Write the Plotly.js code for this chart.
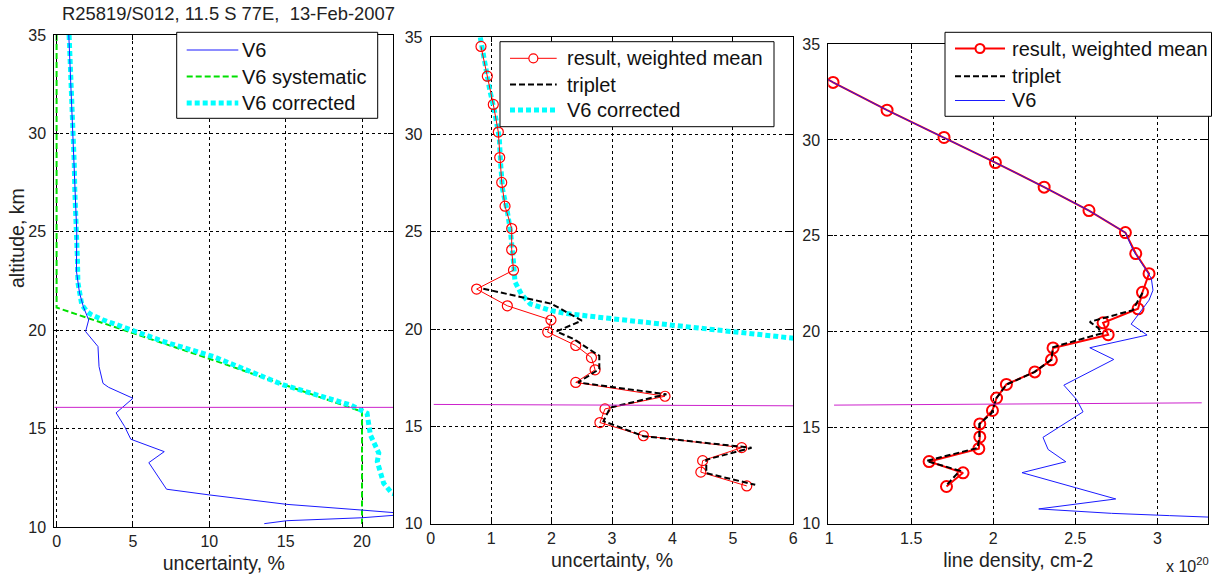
<!DOCTYPE html>
<html>
<head>
<meta charset="utf-8">
<script src="https://cdn.plot.ly/plotly-3.0.1.min.js"></script>
<style>html,body{margin:0;padding:0;background:#fff;}#chart{width:1212px;height:579px;}</style>
</head>
<body>
<div id="chart"></div>
<script>
// ---------- Panel 1: uncertainty, % ----------
var v6Alt = [35, 32, 30, 27, 25, 23, 21.9, 21.2, 20.52, 19.93, 19.17, 18.15, 17.3, 17.1, 16.54, 15.8, 15.1, 14.46, 13.83, 13.27, 11.92, 11.63, 11.15, 10.86, 10.66, 10.47, 10.32, 10.17];
var v6Unc = [0.8, 0.95, 1.07, 1.2, 1.32, 1.3, 1.5, 1.75, 2.1, 1.9, 2.71, 2.78, 3.04, 3.4, 5.0, 3.9, 4.46, 4.86, 7.05, 6.04, 7.2, 10.0, 15.08, 20.0, 23.2, 20.0, 15.08, 13.6];

var sysAlt = [35, 21.15, 19.85, 18.55, 17.2, 15.86, 10.15];
var sysUnc = [0, 0, 5, 10, 15, 20, 20];

var corrAlt = [35, 33.46, 32.25, 31.13, 29.84, 28.46, 27.17, 26.05, 25.02, 23.46, 22.43, 21.8, 21.29, 20.95, 20.8, 20.53, 20.33, 20.1, 19.98, 19.81, 19.65, 19.4, 18.66, 17.22, 16.2, 15.78, 14.68, 13.75, 13.32, 12.22, 11.71, 11.6];
var corrUnc = [0.82, 0.9, 0.98, 1.06, 1.135, 1.158, 1.19, 1.268, 1.32, 1.37, 1.395, 1.5, 1.65, 2.0, 2.25, 3.02, 3.74, 4.46, 5.0, 5.56, 6.1, 7.1, 10.27, 14.86, 19.24, 20.33, 20.55, 21.1, 21.0, 21.42, 21.97, 22.4];

// ---------- Panel 2 / 3: weighted-mean result ----------
var resAlt  = [34.53, 33.0, 31.55, 30.13, 28.82, 27.54, 26.32, 25.17, 24.08, 23.03, 22.06, 21.2, 20.47, 19.85, 19.16, 18.54, 17.91, 17.26, 16.55, 15.9, 15.2, 14.52, 13.91, 13.24, 12.65, 11.94];
var resUnc  = [0.832, 0.937, 1.036, 1.119, 1.142, 1.175, 1.23, 1.34, 1.34, 1.37, 0.76, 1.268, 1.99, 1.936, 2.4, 2.66, 2.72, 2.4, 3.877, 2.884, 2.80, 3.52, 5.146, 4.5, 4.47, 5.23];
var resDens = [0.72, 1.024, 1.353, 1.70, 2.013, 2.31, 2.583, 2.805, 2.868, 2.949, 2.909, 2.882, 2.669, 2.70, 2.364, 2.354, 2.253, 2.08, 2.02, 1.995, 1.918, 1.918, 1.912, 1.609, 1.816, 1.715];

// triplet
var tripAltU = [22.08, 21.3, 20.44, 19.88, 19.5, 18.63, 17.95, 17.26, 16.65, 15.97, 15.27, 14.5, 13.9, 13.29, 12.6, 12.0];
var tripUnc  = [0.87, 2.0, 2.5, 2.08, 2.36, 2.79, 2.79, 2.44, 3.9, 2.97, 2.86, 3.52, 5.31, 4.56, 4.56, 5.37];
var tripAltD = [22.04, 21.13, 20.52, 20.2, 19.92, 19.2, 18.55, 17.9, 17.25, 16.55, 15.75, 15.2, 14.5, 13.95, 13.27, 12.76, 12.0];
var tripDens = [2.909, 2.85, 2.588, 2.64, 2.659, 2.364, 2.354, 2.25, 2.08, 2.02, 1.989, 1.915, 1.915, 1.905, 1.593, 1.796, 1.715];

// V6 line density (x 1e20 cm-2)
var v6dAlt  = [34.53, 33.0, 31.55, 30.13, 28.82, 27.54, 26.32, 25.17, 24.25, 23.2, 22.78, 22.17, 21.65, 20.4, 19.83, 19.17, 18.56, 17.22, 16.48, 15.83, 14.5, 13.87, 13.23, 12.66, 11.29, 10.77, 10.54, 10.42, 10.3];
var v6Dens  = [0.72, 1.024, 1.353, 1.70, 2.013, 2.31, 2.583, 2.805, 2.852, 2.933, 2.963, 2.973, 2.949, 2.84, 2.937, 2.588, 2.734, 2.43, 2.507, 2.547, 2.303, 2.334, 2.442, 2.175, 2.746, 2.277, 2.72, 3.075, 3.45];

// tropopause marker lines
var trop1X = [-0.15, 22.05], trop1Alt = [16.08, 16.08];
var trop2X = [0.05, 6.0],    trop2Alt = [16.13, 16.06];
var trop3X = [1.03, 3.27],   trop3Alt = [16.18, 16.30];

var ticks1 = [0, 5, 10, 15, 20];
var ticks2 = [0, 1, 2, 3, 4, 5, 6];
var ticks3 = [1, 1.5, 2, 2.5, 3];
var altTicks = [10, 15, 20, 25, 30, 35];

// legend labels
var legend1Labels = ['V6', 'V6 systematic', 'V6 corrected'];
var legend2Labels = ['result, weighted mean', 'triplet', 'V6 corrected'];
var legend3Labels = ['result, weighted mean', 'triplet', 'V6'];

var FONT = 'Arial, "Liberation Sans", sans-serif';
var BLUE = '#1a1aff', GREEN = '#00e000', CYAN = '#00ffff', RED = '#ff0000', MAG = '#cc22cc';
var ST = {
  v6:   {color: BLUE, width: 1},
  sys:  {color: GREEN, width: 2, dash: '6px,3px'},
  corr: {color: CYAN, width: 5, dash: '5px,3px'},
  res2: {color: RED, width: 1},
  res3: {color: RED, width: 2},
  trip: {color: '#000', width: 2, dash: '6px,3px'},
  trop: {color: MAG, width: 1}
};

var traces = [
  // panel 1
  {x: sysUnc, y: sysAlt, xaxis: 'x', yaxis: 'y', mode: 'lines', name: legend1Labels[1], line: ST.sys},
  {x: corrUnc, y: corrAlt, xaxis: 'x', yaxis: 'y', mode: 'lines', name: legend1Labels[2], line: ST.corr},
  {x: v6Unc, y: v6Alt, xaxis: 'x', yaxis: 'y', mode: 'lines', name: legend1Labels[0], line: ST.v6},
  {x: trop1X, y: trop1Alt, xaxis: 'x', yaxis: 'y', mode: 'lines', name: 'tropopause', line: ST.trop},
  // panel 2
  {x: corrUnc, y: corrAlt, xaxis: 'x2', yaxis: 'y2', mode: 'lines', name: legend2Labels[2], line: ST.corr},
  {x: resUnc, y: resAlt, xaxis: 'x2', yaxis: 'y2', mode: 'lines+markers', name: legend2Labels[0], line: ST.res2,
   marker: {symbol: 'circle-open', size: 10, color: RED, line: {width: 1.2, color: RED}}},
  {x: tripUnc, y: tripAltU, xaxis: 'x2', yaxis: 'y2', mode: 'lines', name: legend2Labels[1], line: ST.trip},
  {x: trop2X, y: trop2Alt, xaxis: 'x2', yaxis: 'y2', mode: 'lines', name: 'tropopause', line: ST.trop},
  // panel 3
  {x: resDens, y: resAlt, xaxis: 'x3', yaxis: 'y3', mode: 'lines+markers', name: legend3Labels[0], line: ST.res3,
   marker: {symbol: 'circle-open', size: 11, color: RED, line: {width: 2, color: RED}}},
  {x: tripDens, y: tripAltD, xaxis: 'x3', yaxis: 'y3', mode: 'lines', name: legend3Labels[1], line: ST.trip},
  {x: v6Dens, y: v6dAlt, xaxis: 'x3', yaxis: 'y3', mode: 'lines', name: legend3Labels[2], line: ST.v6},
  {x: trop3X, y: trop3Alt, xaxis: 'x3', yaxis: 'y3', mode: 'lines', name: 'tropopause', line: ST.trop}
];

var W = 1212, H = 579;
function PX(v) { return v / W; }
function PY(v) { return 1 - v / H; }
function dx(a, b) { return [a / W, b / W]; }
function dy(top, bottom) { return [1 - bottom / H, 1 - top / H]; }

function xax(domain, range, tickvals, anchor, title) {
  return {
    domain: domain, range: range, anchor: anchor, tickvals: tickvals,
    ticks: 'inside', ticklen: 5, tickcolor: '#000', mirror: 'allticks',
    showline: true, linecolor: '#000', linewidth: 1,
    showgrid: true, gridcolor: '#000', gridwidth: 1, griddash: '3px,3px', zeroline: false,
    tickfont: {family: FONT, size: 16, color: '#222'},
    title: {text: title, font: {family: FONT, size: 19.5, color: '#222'}, standoff: 7},
    automargin: false, fixedrange: true
  };
}
function yax(domain, anchor) {
  return {
    domain: domain, range: [10, 35], anchor: anchor, tickvals: altTicks,
    ticks: 'inside', ticklen: 5, tickcolor: '#000', mirror: 'allticks',
    showline: true, linecolor: '#000', linewidth: 1,
    showgrid: true, gridcolor: '#000', gridwidth: 1, griddash: '3px,3px', zeroline: false,
    tickfont: {family: FONT, size: 16, color: '#222'}, ticklabelstandoff: 4,
    automargin: false, fixedrange: true
  };
}

// custom MATLAB-style legend boxes (pixel geometry -> paper coords)
var shapes = [], annotations = [];
function legendBox(box, rows, sample, textX, labels, styles, markers) {
  shapes.push({type: 'rect', xref: 'paper', yref: 'paper', x0: PX(box[0]), x1: PX(box[1]), y0: PY(box[3]), y1: PY(box[2]),
               fillcolor: '#fff', line: {color: '#000', width: 1}});
  for (var i = 0; i < labels.length; i++) {
    var yy = PY(rows[i]);
    shapes.push({type: 'line', xref: 'paper', yref: 'paper', x0: PX(sample[0]), x1: PX(sample[1]), y0: yy, y1: yy,
                 line: styles[i]});
    if (markers[i]) {
      var c = (sample[0] + sample[1]) / 2, r = markers[i].r;
      shapes.push({type: 'circle', xref: 'paper', yref: 'paper', x0: PX(c - r), x1: PX(c + r), y0: PY(rows[i] + r), y1: PY(rows[i] - r),
                   fillcolor: '#fff', line: {color: RED, width: markers[i].w}});
    }
    annotations.push({text: labels[i], xref: 'paper', yref: 'paper', x: PX(textX), y: yy, xanchor: 'left', yanchor: 'middle',
                      showarrow: false, font: {family: FONT, size: 20, color: '#111'}});
  }
}
legendBox([176.7, 377.7, 32.3, 118.3], [50, 76.5, 103], [186.7, 238.3], 240, legend1Labels,
          [ST.v6, ST.sys, ST.corr], [null, null, null]);
legendBox([500, 774, 41.7, 126.7], [58.3, 84.5, 110], [510, 556.7], 565, legend2Labels,
          [ST.res2, ST.trip, ST.corr], [{r: 4.5, w: 1.2}, null, null]);
legendBox([945, 1211.5, 32.3, 116.3], [48.5, 76.3, 100.5], [955, 1005], 1010, legend3Labels,
          [ST.res3, ST.trip, ST.v6], [{r: 4.5, w: 2}, null, null]);

annotations.push(
  {text: 'altitude, km', xref: 'paper', yref: 'paper', x: PX(17), y: PY(238), showarrow: false,
   textangle: -90, xanchor: 'center', yanchor: 'middle', font: {family: FONT, size: 19.5, color: '#222'}},
  {text: 'x 10<sup>20</sup>', xref: 'paper', yref: 'paper', x: PX(1211), y: PY(565), showarrow: false,
   xanchor: 'right', yanchor: 'middle', font: {family: FONT, size: 16, color: '#222'}}
);

var layout = {
  width: W, height: H, margin: {l: 0, r: 0, t: 0, b: 0},
  paper_bgcolor: '#fff', plot_bgcolor: '#fff',
  showlegend: false,
  title: {text: 'R25819/S012, 11.5 S 77E,\u00A0 13-Feb-2007', x: PX(62), xanchor: 'left', xref: 'paper',
          y: PY(14), yanchor: 'middle', font: {family: FONT, size: 18.4, color: '#222'}},
  xaxis:  xax(dx(54.3, 393.3), [-0.15, 22.05], ticks1, 'y', 'uncertainty, %'),
  yaxis:  yax(dy(35, 527), 'x'),
  xaxis2: xax(dx(430.7, 793.3), [0, 6], ticks2, 'y2', 'uncertainty, %'),
  yaxis2: yax(dy(37.3, 523.7), 'x2'),
  xaxis3: xax(dx(828.3, 1208.3), [0.995, 3.31], ticks3, 'y3', 'line density, cm-2'),
  yaxis3: yax(dy(44, 523.7), 'x3'),
  shapes: shapes,
  annotations: annotations
};

Plotly.newPlot('chart', traces, layout, {staticPlot: true, displayModeBar: false});
</script>
</body>
</html>
